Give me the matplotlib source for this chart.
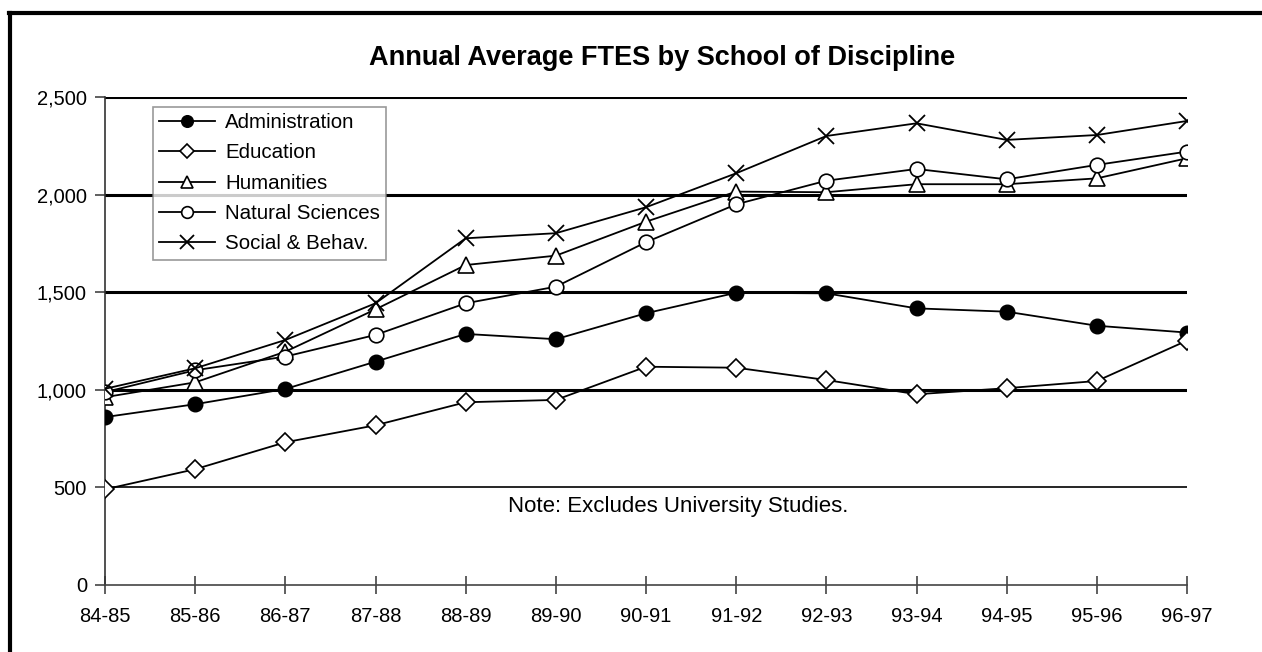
import matplotlib
matplotlib.use("Agg")
import matplotlib.pyplot as plt
from matplotlib.lines import Line2D

plt.rcParams['font.family'] = ['Liberation Sans', 'DejaVu Sans']

# school years on the x axis
years = ['84-85', '85-86', '86-87', '87-88', '88-89', '89-90', '90-91',
         '91-92', '92-93', '93-94', '94-95', '95-96', '96-97']

# annual average FTES per school
administration = [860, 926, 1004, 1144, 1286, 1259, 1392, 1497, 1494, 1417, 1400, 1328, 1293]
education = [490, 593, 731, 818, 936, 948, 1118, 1113, 1050, 977, 1008, 1045, 1252]
humanities = [962, 1038, 1195, 1412, 1639, 1687, 1861, 2015, 2012, 2053, 2053, 2083, 2186]
natural_sci = [988, 1100, 1170, 1281, 1443, 1528, 1756, 1950, 2071, 2131, 2078, 2152, 2220]
social_beh = [1005, 1110, 1255, 1443, 1776, 1802, 1935, 2109, 2300, 2365, 2280, 2305, 2377]

y_ticks = [0, 500, 1000, 1500, 2000, 2500]
y_labels = ['0', '500', '1,000', '1,500', '2,000', '2,500']

fig = plt.figure(figsize=(12.62, 6.52), dpi=100)
ax = fig.add_axes([0.0832, 0.1028, 0.8574, 0.7485])

x = list(range(len(years)))
lw = 1.3
ax.plot(x, administration, color='black', lw=lw, marker='o', ms=10.5,
        mfc='black', mec='black', label='Administration', zorder=3)
ax.plot(x, education, color='black', lw=lw, marker='D', ms=9.5,
        mfc='white', mec='black', mew=1.2, label='Education', zorder=3)
ax.plot(x, humanities, color='black', lw=lw, marker='^', ms=11,
        mfc='white', mec='black', mew=1.2, label='Humanities', zorder=3)
ax.plot(x, natural_sci, color='black', lw=lw, marker='o', ms=10.5,
        mfc='white', mec='black', mew=1.2, label='Natural Sciences', zorder=3)
ax.plot(x, social_beh, color='black', lw=lw, marker='x', ms=12,
        mec='black', mew=1.3, label='Social & Behav.', zorder=3)

ax.set_xlim(0, len(years) - 1)
ax.set_ylim(0, 2500)
ax.set_xticks(x)
ax.set_xticklabels(years)
ax.set_yticks(y_ticks)
ax.set_yticklabels(y_labels)

for s in ['top', 'right']:
    ax.spines[s].set_visible(False)
ax.spines['left'].set_color('#333333')
ax.spines['bottom'].set_color('#444444')
ax.spines['left'].set_linewidth(1.2)
ax.spines['bottom'].set_linewidth(1.2)

ax.tick_params(axis='y', direction='out', length=7, width=1.2,
               color='#444444', labelsize=14.5, pad=6)
ax.tick_params(axis='x', direction='inout', length=13, width=1.2,
               color='#444444', labelsize=14.5, pad=9)

ax.grid(axis='y', color='black', lw=2.2, zorder=1)
ax.grid(axis='x', visible=False)
for tick_val, gl in zip(y_ticks, ax.get_ygridlines()):
    if tick_val == 500:
        gl.set_linewidth(1.2)
    if tick_val == 0:
        gl.set_visible(False)

leg = ax.legend(loc='upper left', bbox_to_anchor=(0.0444, 0.9795),
                borderaxespad=0, fontsize=14.8, frameon=True, fancybox=False,
                handlelength=2.7, labelspacing=0.55, markerscale=0.8,
                borderpad=0.3, handletextpad=0.5)
leg.get_frame().set_edgecolor('#808080')
leg.get_frame().set_linewidth(1.2)

ax.text(0.530, 0.16, 'Note: Excludes University Studies.', transform=ax.transAxes,
        ha='center', va='center', fontsize=16)

fig.text(0.525, 0.911, 'Annual Average FTES by School of Discipline',
         ha='center', va='center', fontsize=19.5, fontweight='bold')

# outer frame (only left and top edges are visible)
fig.add_artist(Line2D([0.0083, 0.0083], [-0.01, 0.980], color='black', lw=3,
                      transform=fig.transFigure))
fig.add_artist(Line2D([0.0071, 1.01], [0.980, 0.980], color='black', lw=3,
                      transform=fig.transFigure))

fig.savefig('out.png', dpi=100)
